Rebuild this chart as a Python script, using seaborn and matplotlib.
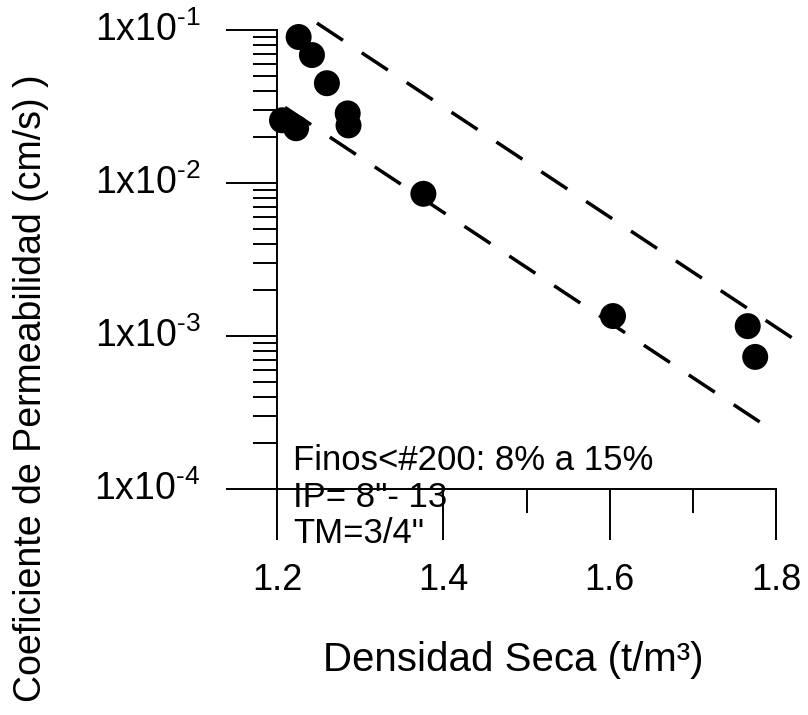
import numpy as np
import pandas as pd
import matplotlib
matplotlib.use("Agg")
import matplotlib.pyplot as plt
import matplotlib.ticker as mticker
import seaborn as sns

# Data
densidad = [1.226, 1.242, 1.260, 1.285, 1.286, 1.206, 1.223, 1.376, 1.604, 1.766, 1.775]
permeab = [0.090, 0.0686, 0.0449, 0.0285, 0.0238, 0.0257, 0.0228, 0.0085, 0.00135, 0.00116, 0.00073]

upper_x = [1.248, 1.826]
upper_y = [0.111, 0.00092]
lower_x = [1.2096, 1.7855]
lower_y = [0.0312, 0.000263]

xticks_major = [1.2, 1.4, 1.6, 1.8]
xticks_minor = [1.5, 1.7]
yticks = [1e-4, 1e-3, 1e-2, 1e-1]
ytick_labels = [r"$\mathregular{1x10^{\text{-4}}}$", r"$\mathregular{1x10^{\text{-3}}}$",
                r"$\mathregular{1x10^{\text{-2}}}$", r"$\mathregular{1x10^{\text{-1}}}$"]
notes = ["Finos<#200: 8% a 15%", "IP= 8\"- 13", "TM=3/4\""]

sns.set_theme(style="ticks")
plt.rcParams["font.family"] = ["Liberation Sans", "DejaVu Sans"]
plt.rcParams["mathtext.fontset"] = "custom"
plt.rcParams["mathtext.rm"] = "Liberation Sans"
plt.rcParams["axes.unicode_minus"] = False

fig = plt.figure(figsize=(8.08, 7.15), dpi=100)
ax = fig.add_axes([277/808, 1-489/715, (776-277)/808, (489-30)/715])

df_pts = pd.DataFrame({"x": densidad, "y": permeab})
sns.scatterplot(data=df_pts, x="x", y="y", color="black", s=350, edgecolor="none",
                ax=ax, zorder=3, clip_on=False)

dash = (9, 6.5)
for xs, ys in [(upper_x, upper_y), (lower_x, lower_y)]:
    d = pd.DataFrame({"x": xs, "y": ys})
    sns.lineplot(data=d, x="x", y="y", color="black", lw=2.5, ax=ax,
                 dashes=False, clip_on=False)
for ln in ax.lines:
    ln.set_dashes(dash)
    ln.set_clip_on(False)

ax.set_yscale("log")
ax.set_xlim(1.2, 1.8)
ax.set_ylim(1e-4, 1e-1)

ax.set_xticks(xticks_major)
ax.set_xticklabels([f"{v:.1f}" for v in xticks_major])
ax.xaxis.set_minor_locator(mticker.FixedLocator(xticks_minor))
ax.set_yticks(yticks)
ax.set_yticklabels(ytick_labels)
ax.yaxis.set_minor_locator(mticker.LogLocator(base=10, subs=np.arange(2, 10)))
ax.yaxis.set_minor_formatter(mticker.NullFormatter())

ax.tick_params(axis="both", which="major", direction="out", length=37, width=1.4,
               color="black", labelcolor="black")
ax.tick_params(axis="x", which="major", labelsize=26, pad=16)
ax.tick_params(axis="y", which="major", labelsize=27, pad=18)
ax.tick_params(axis="both", which="minor", direction="out", length=17, width=1.4,
               color="black")
for lbl in ax.get_yticklabels():
    lbl.set_va("center")

for s in ["top", "right"]:
    ax.spines[s].set_visible(False)
for s in ["left", "bottom"]:
    ax.spines[s].set_linewidth(1.4)
    ax.spines[s].set_color("black")

ax.set_xlabel("Densidad Seca (t/m³)", fontsize=29, color="black")
ax.set_ylabel("Coeficiente de Permeabilidad (cm/s) )", fontsize=27, color="black")
ax.xaxis.label.set_va("center")
ax.xaxis.set_label_coords(0.473, -0.3725)
ax.yaxis.label.set_va("center")
ax.yaxis.set_label_coords(-0.493, 0.22)

ys_txt = [0.063, -0.018, -0.098]
for t, yy in zip(notes, ys_txt):
    ax.text(0.032, yy, t, transform=ax.transAxes, fontsize=25, color="black",
            ha="left", va="center", clip_on=False)

ax.set_facecolor("white")
fig.patch.set_facecolor("white")
fig.savefig("out.png", dpi=100, facecolor="white")
